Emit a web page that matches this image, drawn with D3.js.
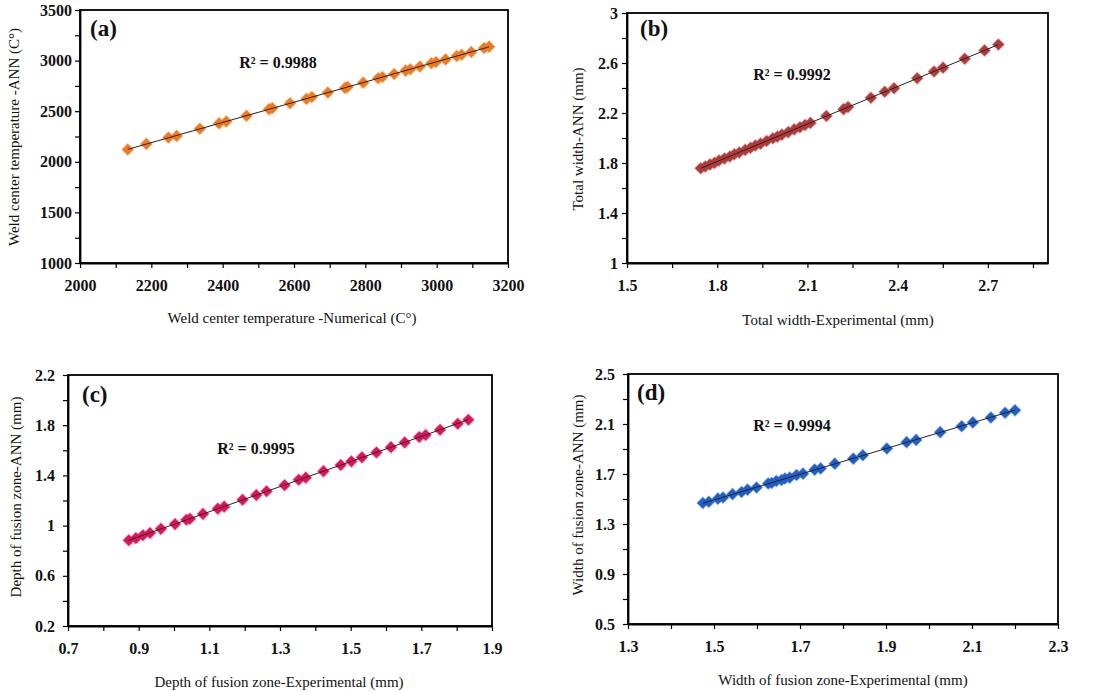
<!DOCTYPE html>
<html>
<head>
<meta charset="utf-8">
<script src="https://cdn.jsdelivr.net/npm/d3@7"></script>
<style>
  body { margin: 0; background: #fff; }
  svg text { font-family: "Liberation Serif", "Times New Roman", serif; fill: #111; }
</style>
</head>
<body>
<svg width="1103" height="692"></svg>
<script>
// panel (a) weld centre temperature
let aX = [2134, 2186, 2248, 2271, 2336, 2390, 2410, 2467, 2530, 2539, 2589, 2635, 2650, 2695, 2743, 2750,
  2794, 2836, 2848, 2881, 2913, 2926, 2953, 2985, 2998, 3025, 3056, 3070, 3097, 3133, 3147];
let aY = [2122, 2177, 2240, 2256, 2327, 2380, 2398, 2455, 2520, 2530, 2578, 2622, 2640, 2684, 2730, 2740,
  2782, 2826, 2838, 2868, 2901, 2915, 2942, 2974, 2986, 3012, 3045, 3058, 3085, 3124, 3138];

// panel (b) total width
let bX = [1.745, 1.760, 1.776, 1.791, 1.806, 1.824, 1.842, 1.857, 1.873, 1.893, 1.911, 1.927, 1.944, 1.964,
  1.985, 2.000, 2.015, 2.036, 2.056, 2.075, 2.092, 2.110, 2.163, 2.220, 2.235, 2.311, 2.357, 2.388, 2.465,
  2.521, 2.551, 2.623, 2.689, 2.735];
let bY = [1.758, 1.772, 1.789, 1.801, 1.820, 1.836, 1.852, 1.870, 1.884, 1.905, 1.922, 1.940, 1.955, 1.976,
  1.998, 2.011, 2.027, 2.047, 2.069, 2.086, 2.104, 2.121, 2.176, 2.231, 2.248, 2.322, 2.370, 2.398, 2.478,
  2.532, 2.563, 2.634, 2.701, 2.748];

// panel (c) depth of fusion zone
let cX = [0.872, 0.892, 0.912, 0.932, 0.963, 1.003, 1.035, 1.045, 1.082, 1.124, 1.142, 1.194, 1.233, 1.262,
  1.313, 1.353, 1.373, 1.423, 1.472, 1.502, 1.532, 1.573, 1.614, 1.653, 1.694, 1.712, 1.753, 1.803, 1.833];
let cY = [0.883, 0.900, 0.923, 0.941, 0.974, 1.012, 1.047, 1.055, 1.093, 1.135, 1.151, 1.206, 1.243, 1.274,
  1.322, 1.365, 1.382, 1.434, 1.483, 1.512, 1.544, 1.583, 1.625, 1.663, 1.706, 1.722, 1.764, 1.812, 1.843];

// panel (d) width of fusion zone
let dX = [1.474, 1.488, 1.509, 1.521, 1.543, 1.564, 1.578, 1.599, 1.626, 1.634, 1.645, 1.657, 1.665, 1.676,
  1.692, 1.707, 1.734, 1.748, 1.781, 1.824, 1.846, 1.902, 1.948, 1.970, 2.026, 2.076, 2.102, 2.144, 2.177, 2.200];
let dY = [1.468, 1.478, 1.503, 1.512, 1.539, 1.556, 1.575, 1.592, 1.624, 1.628, 1.644, 1.652, 1.664, 1.671,
  1.692, 1.703, 1.735, 1.745, 1.783, 1.823, 1.850, 1.904, 1.955, 1.973, 2.035, 2.082, 2.113, 2.152, 2.190, 2.210];

// axis ticks (every other tick is labelled)
let aTicksX = d3.range(2000, 3201, 100);
let aTicksY = d3.range(1000, 3501, 250);
let bTicksX = d3.range(0, 10).map((i) => 1.5 + i * 0.15);
let bTicksY = d3.range(0, 11).map((i) => 1 + i * 0.2);
let cTicksX = d3.range(0, 13).map((i) => 0.7 + i * 0.1);
let cTicksY = d3.range(0, 11).map((i) => 0.2 + i * 0.2);
let dTicksX = d3.range(0, 11).map((i) => 1.3 + i * 0.1);
let dTicksY = d3.range(0, 11).map((i) => 0.5 + i * 0.2);

let r2Labels = ["R² = 0.9988", "R² = 0.9992", "R² = 0.9995", "R² = 0.9994"];

let svg = d3.select("svg");

let panels = [
  {
    box: [80, 10, 508, 263], xd: [2000, 3200], yd: [1000, 3500],
    xt: aTicksX, yt: aTicksY, xs: aX, ys: aY, color: "#f07a1c", yPad: 3,
    letter: "(a)", letterPos: [90, 36], r2: r2Labels[0], r2Pos: [278, 68],
    xTitle: "Weld center temperature -Numerical (C°)", xTitlePos: [292, 323],
    yTitle: "Weld center temperature -ANN (C°)", yTitlePos: [19, 137],
    fmt: d3.format("d")
  },
  {
    box: [627, 13, 1048, 263], xd: [1.5, 2.9], yd: [1, 3],
    xt: bTicksX, yt: bTicksY, xs: bX, ys: bY, color: "#b33a3a", yPad: 4,
    letter: "(b)", letterPos: [640, 36], r2: r2Labels[1], r2Pos: [792, 80],
    xTitle: "Total width-Experimental (mm)", xTitlePos: [838, 325],
    yTitle: "Total width-ANN (mm)", yTitlePos: [583, 139],
    fmt: (d) => String(+d.toFixed(2))
  },
  {
    box: [68, 375, 492, 626], xd: [0.7, 1.9], yd: [0.2, 2.2],
    xt: cTicksX, yt: cTicksY, xs: cX, ys: cY, color: "#e0135c", yPad: 8,
    letter: "(c)", letterPos: [82, 402], r2: r2Labels[2], r2Pos: [256, 454],
    xTitle: "Depth of fusion zone-Experimental (mm)", xTitlePos: [279, 687],
    yTitle: "Depth of fusion zone-ANN (mm)", yTitlePos: [21, 497],
    fmt: (d) => String(+d.toFixed(2))
  },
  {
    box: [628, 374, 1058, 624], xd: [1.3, 2.3], yd: [0.5, 2.5],
    xt: dTicksX, yt: dTicksY, xs: dX, ys: dY, color: "#1f5fc8", yPad: 8,
    letter: "(d)", letterPos: [637, 400], r2: r2Labels[3], r2Pos: [792, 431],
    xTitle: "Width of fusion zone-Experimental (mm)", xTitlePos: [843, 685],
    yTitle: "Width of fusion zone-ANN (mm)", yTitlePos: [583, 495],
    fmt: (d) => String(+d.toFixed(2))
  }
];

panels.forEach(drawPanel);

function drawPanel(p) {
  let [l, t, r, b] = p.box;
  let x = d3.scaleLinear().domain(p.xd).range([l, r]);
  let y = d3.scaleLinear().domain(p.yd).range([b, t]);
  let g = svg.append("g");

  g.append("g")
    .attr("transform", `translate(0,${b})`)
    .call(d3.axisBottom(x).tickValues(p.xt).tickSize(5).tickSizeOuter(0).tickPadding(12)
      .tickFormat((d, i) => (i % 2 === 0 ? p.fmt(d) : "")))
    .call(styleAxis);

  g.append("g")
    .attr("transform", `translate(${l},0)`)
    .call(d3.axisLeft(y).tickValues(p.yt).tickSize(5).tickSizeOuter(0).tickPadding(p.yPad)
      .tickFormat((d, i) => (i % 2 === 0 ? p.fmt(d) : "")))
    .call(styleAxis);

  g.append("rect")
    .attr("x", l).attr("y", t)
    .attr("width", r - l).attr("height", b - t)
    .style("fill", "none")
    .style("stroke", "#000")
    .style("stroke-width", 1.8);

  // least squares trend line
  let pts = p.xs.map((v, i) => [v, p.ys[i]]);
  let mx = d3.mean(p.xs), my = d3.mean(p.ys);
  let slope = d3.sum(pts, (d) => (d[0] - mx) * (d[1] - my)) / d3.sum(pts, (d) => (d[0] - mx) ** 2);
  let icpt = my - slope * mx;
  let x0 = d3.min(p.xs), x1 = d3.max(p.xs);

  let diamond = d3.symbol().type(d3.symbolSquare).size(62);
  g.append("g")
    .selectAll("path")
    .data(pts)
    .join("path")
    .attr("d", diamond)
    .attr("transform", (d) => `translate(${x(d[0])},${y(d[1])}) rotate(45)`)
    .style("fill", p.color)
    .style("stroke", p.color)
    .style("stroke-opacity", 0.5)
    .style("stroke-width", 1.4);

  g.append("line")
    .attr("x1", x(x0)).attr("y1", y(icpt + slope * x0))
    .attr("x2", x(x1)).attr("y2", y(icpt + slope * x1))
    .style("stroke", "#222")
    .style("stroke-width", 1);

  g.append("text")
    .attr("x", p.letterPos[0]).attr("y", p.letterPos[1])
    .style("font-size", "23px").style("font-weight", "bold")
    .text(p.letter);

  g.append("text")
    .attr("x", p.r2Pos[0]).attr("y", p.r2Pos[1])
    .attr("text-anchor", "middle")
    .style("font-size", "16px").style("font-weight", "bold")
    .text(p.r2);

  g.append("text")
    .attr("x", p.xTitlePos[0]).attr("y", p.xTitlePos[1])
    .attr("text-anchor", "middle")
    .style("font-size", "15px")
    .text(p.xTitle);

  g.append("text")
    .attr("transform", `translate(${p.yTitlePos[0]},${p.yTitlePos[1]}) rotate(-90)`)
    .attr("text-anchor", "middle")
    .style("font-size", "15px")
    .text(p.yTitle);
}

function styleAxis(sel) {
  sel.select(".domain").style("stroke", "#000").style("stroke-width", 1.8);
  sel.selectAll(".tick line").style("stroke", "#000").style("stroke-width", 1.2);
  sel.selectAll(".tick text")
    .style("font-family", "'Liberation Serif', serif")
    .style("font-size", "16px")
    .style("font-weight", "bold")
    .style("fill", "#111");
}
</script>
</body>
</html>
